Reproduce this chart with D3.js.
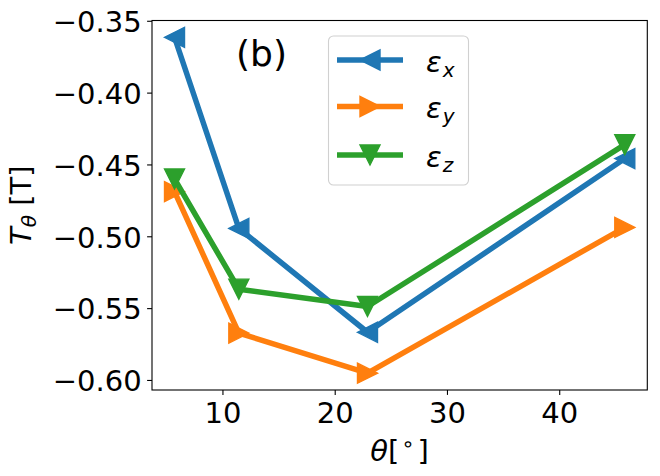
<!DOCTYPE html>
<html>
<head>
<meta charset="utf-8">
<script src="https://cdn.jsdelivr.net/npm/d3@7"></script>
<style>
  html, body { margin: 0; padding: 0; background: #fff; }
  svg { display: block; font-family: "DejaVu Sans", sans-serif; }
</style>
</head>
<body>
<svg id="chart" width="660" height="476"></svg>
<script>
// ---- data ----
const theta = [5.73, 11.46, 22.92, 45.84];
const epsX = [-0.3615, -0.4945, -0.5668, -0.4459];
const epsY = [-0.4689, -0.5674, -0.5953, -0.4938];
const epsZ = [-0.4601, -0.5368, -0.5489, -0.4362];
const seriesSubs = ["x", "y", "z"];
const seriesColors = ["#1f77b4", "#ff7f0e", "#2ca02c"];
const seriesMarkers = ["left", "right", "down"];
const xTicks = [10, 20, 30, 40];
const yTicks = [-0.60, -0.55, -0.50, -0.45, -0.40, -0.35];
const panelLabel = "(b)";

const series = [epsX, epsY, epsZ].map((vals, i) => ({
  sub: seriesSubs[i], color: seriesColors[i], marker: seriesMarkers[i],
  pts: vals.map((v, j) => [theta[j], v])
}));

// ---- layout ----
const L = 152, R = 647.3, T = 20.5, B = 390;
const FS = 29;

function padded(arr) {
  const [a, b] = d3.extent(arr);
  const m = (b - a) * 0.05;
  return [a - m, b + m];
}
const x = d3.scaleLinear().domain(padded(theta)).range([L, R]);
const y = d3.scaleLinear().domain(padded([...epsX, ...epsY, ...epsZ])).range([B, T]);

const svg = d3.select("#chart");

// clip
svg.append("defs").append("clipPath").attr("id", "clip")
  .append("rect").attr("x", L).attr("y", T).attr("width", R - L).attr("height", B - T);

// axes
const fmtY = d => d3.format(".2f")(d).replace("-", "\u2212");
const xAxis = svg.append("g").attr("transform", `translate(0,${B})`)
  .call(d3.axisBottom(x).tickValues(xTicks).tickSize(4.9).tickPadding(4.9).tickFormat(d3.format("d")));
const yAxis = svg.append("g").attr("transform", `translate(${L},0)`)
  .call(d3.axisLeft(y).tickValues(yTicks).tickSize(4.9).tickPadding(5.5).tickFormat(fmtY));
[xAxis, yAxis].forEach(g => {
  g.select(".domain").remove();
  g.selectAll(".tick line").attr("stroke", "#000").attr("stroke-width", 1.1);
  g.selectAll(".tick text").attr("fill", "#000").style("font-size", FS + "px")
    .style("font-family", "'DejaVu Sans', sans-serif");
});
xAxis.selectAll(".tick text").attr("dy", null).attr("y", 32.5);
yAxis.selectAll(".tick text").attr("dy", "0.37em");

// marker path (matplotlib-like triangle, side s)
function tri(dir, s) {
  const h = s / 2;
  if (dir === "left") return `M${-h},0L${h},${-h}L${h},${h}Z`;
  if (dir === "right") return `M${h},0L${-h},${-h}L${-h},${h}Z`;
  return `M0,${h}L${-h},${-h}L${h},${-h}Z`;
}

const plot = svg.append("g").attr("clip-path", "url(#clip)");
const line = d3.line().x(d => x(d[0])).y(d => y(d[1]));
series.forEach(s => {
  const g = plot.append("g");
  g.append("path").attr("d", line(s.pts)).attr("fill", "none")
    .attr("stroke", s.color).attr("stroke-width", 5.5).attr("stroke-linejoin", "round")
    .attr("stroke-linecap", "square");
  g.selectAll("path.m").data(s.pts).join("path").attr("class", "m")
    .attr("transform", d => `translate(${x(d[0])},${y(d[1])})`)
    .attr("d", tri(s.marker, 20))
    .attr("fill", s.color).attr("stroke", s.color).attr("stroke-width", 1.4);
});

// frame
svg.append("rect").attr("x", L).attr("y", T).attr("width", R - L).attr("height", B - T)
  .attr("fill", "none").attr("stroke", "#000").attr("stroke-width", 1.1);

// panel label
svg.append("text").attr("x", 236).attr("y", 65.5).style("font-size", "36px")
  .attr("fill", "#000").text(panelLabel);

// legend
const lg = svg.append("g");
lg.append("rect").attr("x", 328.5).attr("y", 36).attr("width", 140).attr("height", 149)
  .attr("rx", 5).attr("fill", "#fff").attr("fill-opacity", 0.8)
  .attr("stroke", "#d0d0d0").attr("stroke-width", 1.1);
const rowY = [60, 106.5, 155];
series.forEach((s, i) => {
  const yy = rowY[i];
  lg.append("line").attr("x1", 337).attr("x2", 403).attr("y1", yy).attr("y2", yy)
    .attr("stroke", s.color).attr("stroke-width", 5.5);
  lg.append("path").attr("transform", `translate(370,${yy})`).attr("d", tri(s.marker, 20))
    .attr("fill", s.color).attr("stroke", s.color).attr("stroke-width", 1.4);
  const t = lg.append("text").attr("x", 426).attr("y", yy + 11.5)
    .style("font-size", FS + "px").attr("fill", "#000");
  t.append("tspan").style("font-style", "italic").text("\u03b5");
  t.append("tspan").style("font-style", "italic").style("font-size", "20px")
    .attr("dy", 5).attr("dx", 1).text(s.sub);
});

// axis labels
const xl = svg.append("text").attr("x", (L + R) / 2).attr("y", 461)
  .attr("text-anchor", "middle").style("font-size", FS + "px").attr("fill", "#000");
xl.append("tspan").style("font-style", "italic").text("\u03b8");
xl.append("tspan").text("[");
xl.append("tspan").style("font-size", "21px").attr("dx", 2).attr("dy", -10).text("\u2218");
xl.append("tspan").attr("dx", 3).attr("dy", 10).text("]");

const yl = svg.append("text").attr("transform", `translate(31,${(T + B) / 2}) rotate(-90)`)
  .attr("text-anchor", "middle").style("font-size", FS + "px").attr("fill", "#000");
yl.append("tspan").style("font-style", "italic").text("T");
yl.append("tspan").style("font-style", "italic").style("font-size", "20px").attr("dy", 5).text("\u03b8");
yl.append("tspan").attr("dy", -5).text(" [T]");
</script>
</body>
</html>
